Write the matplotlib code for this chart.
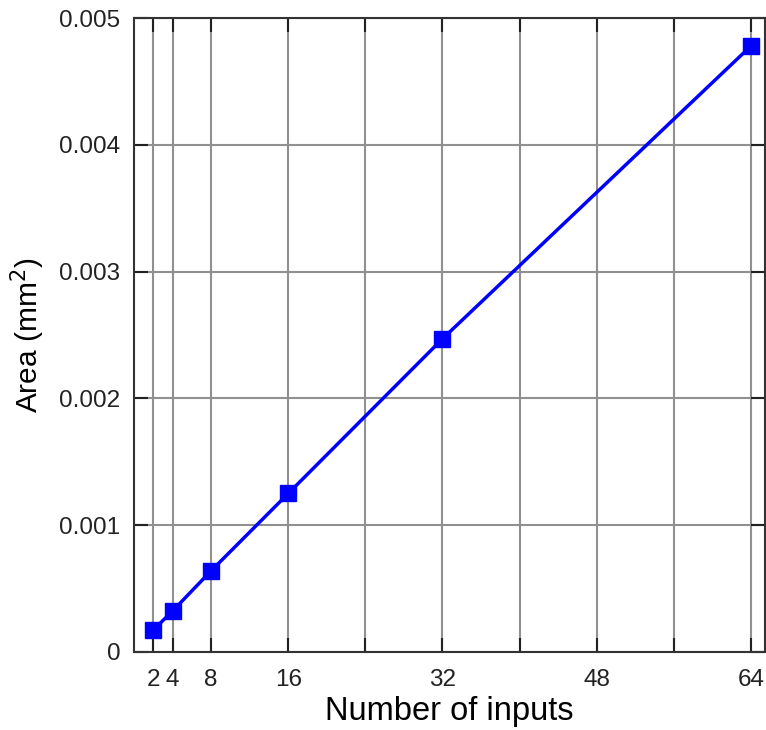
import matplotlib
matplotlib.use("Agg")
import matplotlib.pyplot as plt

inputs = [2, 4, 8, 16, 32, 64]
area = [0.000173, 0.000323, 0.00064, 0.00125, 0.00247, 0.00478]
xtick_pos = [2, 4, 8, 16, 24, 32, 40, 48, 56, 64]
xtick_labels = ["2", "4", "8", "16", "", "32", "", "48", "", "64"]
ytick_pos = [0, 0.001, 0.002, 0.003, 0.004, 0.005]
ytick_labels = ["0", "0.001", "0.002", "0.003", "0.004", "0.005"]

plt.rcParams['font.family'] = ['Liberation Sans', 'DejaVu Sans']
fig = plt.figure(figsize=(7.66, 7.30), dpi=100)
ax = fig.add_axes([0.175, 0.107, 0.824, 0.868])
ax.plot(inputs, area, color='#0000ff', lw=2.5, marker='s', markersize=11, zorder=3)
ax.set_xlim(0, 65.5)
ax.set_ylim(0, 0.005)
ax.set_xticks(xtick_pos)
ax.set_xticklabels(xtick_labels)
ax.set_yticks(ytick_pos)
ax.set_yticklabels(ytick_labels)
ax.grid(True, color='#909090', lw=1.5)
ax.tick_params(direction='in', length=10, width=1.5, labelsize=17.5, top=True, right=True, colors='#222222')
ax.tick_params(axis='x', pad=12)
ax.tick_params(axis='y', pad=10)
for s in ax.spines.values():
    s.set_linewidth(1.5)
    s.set_color('#333333')
ax.set_xlabel('Number of inputs', fontsize=23.5, labelpad=4)
ax.set_ylabel('Area (mm$^2$)', fontsize=21.5, labelpad=9)
fig.savefig('out.png', dpi=100)
